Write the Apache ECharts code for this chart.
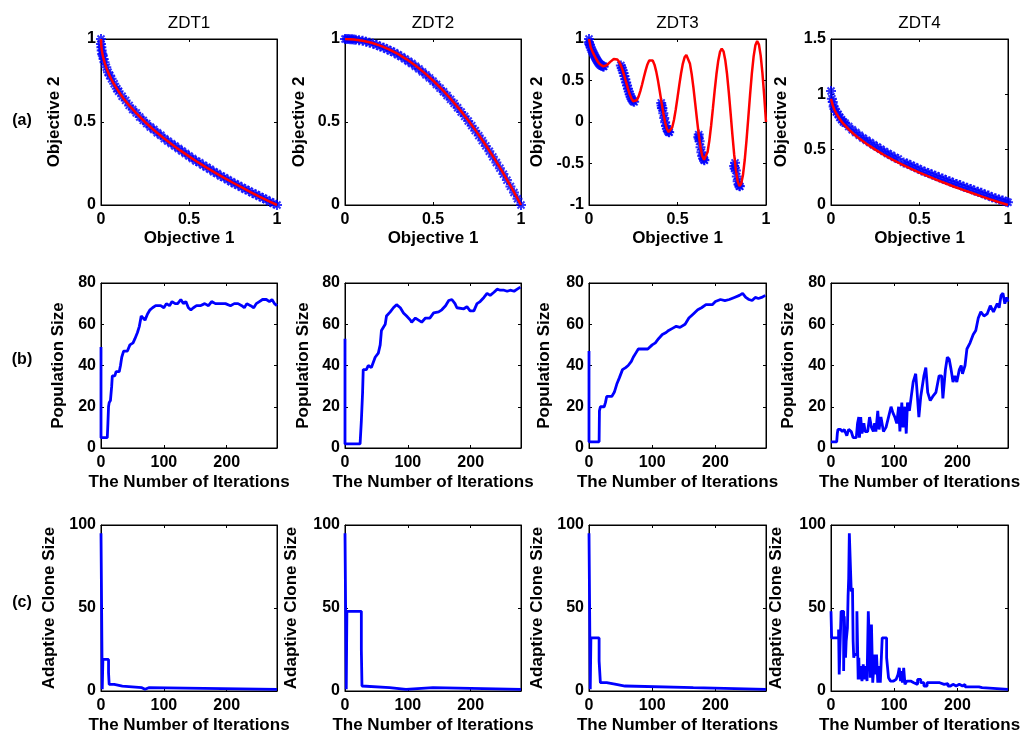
<!DOCTYPE html>
<html><head><meta charset="utf-8">
<script src="https://cdn.jsdelivr.net/npm/echarts@6/dist/echarts.min.js"></script>
<style>html,body{margin:0;padding:0;background:#fff}#c{width:1024px;height:735px}</style>
</head><body><div id="c"></div>
<script>
const problemTitles = ['ZDT1','ZDT2','ZDT3','ZDT4'];
const rowLabels = ['(a)','(b)','(c)'];
const objXName = 'Objective 1', objYName = 'Objective 2';
const iterName = 'The Number of Iterations';
const popName = 'Population Size';
const cloneName = 'Adaptive Clone Size';

// Row (a): true Pareto fronts (red) and obtained fronts (blue)
const zdt1Front = [[0,1],[0.002,0.955],[0.005,0.929],[0.01,0.9],[0.02,0.859],[0.03,0.827],[0.05,0.776],[0.07,0.735],[0.1,0.684],[0.13,0.639],[0.16,0.6],[0.2,0.553],[0.25,0.5],[0.3,0.452],[0.35,0.408],[0.4,0.368],[0.45,0.329],[0.5,0.293],[0.55,0.258],[0.6,0.225],[0.65,0.194],[0.7,0.163],[0.75,0.134],[0.8,0.106],[0.85,0.078],[0.9,0.051],[0.95,0.025],[1,0]];
const zdt1Found = [[0,1],[0,0.97],[0.002,0.95],[0.004,0.93],[0.007,0.91],[0.01,0.9],[0.015,0.88],[0.02,0.86],[0.03,0.83],[0.04,0.8],[0.05,0.78],[0.06,0.76],[0.075,0.73],[0.09,0.7],[0.1,0.685],[0.12,0.655],[0.14,0.63],[0.16,0.6],[0.18,0.575],[0.2,0.555],[0.22,0.53],[0.24,0.51],[0.26,0.49],[0.28,0.47],[0.3,0.455],[0.32,0.435],[0.34,0.42],[0.36,0.4],[0.38,0.385],[0.4,0.37],[0.42,0.355],[0.44,0.34],[0.46,0.325],[0.48,0.31],[0.5,0.295],[0.52,0.28],[0.54,0.265],[0.56,0.255],[0.58,0.24],[0.6,0.228],[0.62,0.215],[0.64,0.2],[0.66,0.19],[0.68,0.175],[0.7,0.165],[0.72,0.152],[0.74,0.14],[0.76,0.128],[0.78,0.118],[0.8,0.106],[0.82,0.095],[0.84,0.085],[0.86,0.073],[0.88,0.063],[0.9,0.052],[0.92,0.042],[0.94,0.032],[0.96,0.02],[0.98,0.01],[1,0]];
const zdt2Front = [[0,1],[0.05,0.9975],[0.1,0.99],[0.15,0.9775],[0.2,0.96],[0.25,0.9375],[0.3,0.91],[0.35,0.8775],[0.4,0.84],[0.45,0.7975],[0.5,0.75],[0.55,0.6975],[0.6,0.64],[0.65,0.5775],[0.7,0.51],[0.75,0.4375],[0.8,0.36],[0.85,0.2775],[0.9,0.19],[0.95,0.0975],[1,0]];
const zdt2Found = [[0,1],[0.01,1],[0.02,1],[0.03,0.999],[0.04,0.998],[0.05,0.997],[0.06,0.996],[0.08,0.993],[0.1,0.99],[0.12,0.984],[0.14,0.978],[0.16,0.972],[0.18,0.964],[0.2,0.955],[0.22,0.948],[0.24,0.938],[0.26,0.928],[0.28,0.918],[0.3,0.905],[0.32,0.894],[0.34,0.88],[0.36,0.866],[0.38,0.852],[0.4,0.836],[0.42,0.82],[0.44,0.802],[0.46,0.784],[0.48,0.766],[0.5,0.746],[0.52,0.726],[0.54,0.704],[0.56,0.682],[0.58,0.66],[0.6,0.636],[0.62,0.612],[0.64,0.586],[0.66,0.56],[0.68,0.534],[0.7,0.506],[0.72,0.478],[0.74,0.448],[0.76,0.418],[0.78,0.388],[0.8,0.356],[0.82,0.324],[0.84,0.29],[0.86,0.256],[0.88,0.222],[0.9,0.186],[0.92,0.15],[0.94,0.112],[0.96,0.075],[0.98,0.038],[1,0]];
const zdt3Front = [[0,1],[0.01,0.897],[0.02,0.847],[0.03,0.803],[0.04,0.762],[0.05,0.726],[0.06,0.698],[0.07,0.679],[0.08,0.67],[0.09,0.672],[0.1,0.684],[0.11,0.702],[0.12,0.724],[0.13,0.745],[0.14,0.759],[0.15,0.763],[0.16,0.752],[0.17,0.725],[0.18,0.682],[0.19,0.623],[0.2,0.553],[0.21,0.477],[0.22,0.402],[0.23,0.334],[0.24,0.282],[0.25,0.25],[0.26,0.243],[0.27,0.262],[0.28,0.306],[0.29,0.372],[0.3,0.452],[0.31,0.539],[0.32,0.622],[0.33,0.693],[0.34,0.74],[0.35,0.758],[0.36,0.742],[0.37,0.691],[0.38,0.607],[0.39,0.496],[0.4,0.368],[0.41,0.233],[0.42,0.105],[0.43,-0.004],[0.44,-0.082],[0.45,-0.121],[0.46,-0.116],[0.47,-0.066],[0.48,0.025],[0.49,0.149],[0.5,0.293],[0.51,0.444],[0.52,0.585],[0.53,0.701],[0.54,0.779],[0.55,0.808],[0.56,0.784],[0.57,0.706],[0.58,0.579],[0.59,0.414],[0.6,0.225],[0.61,0.031],[0.62,-0.152],[0.63,-0.303],[0.64,-0.409],[0.65,-0.456],[0.66,-0.44],[0.67,-0.361],[0.68,-0.224],[0.69,-0.044],[0.7,0.163],[0.71,0.377],[0.72,0.575],[0.73,0.736],[0.74,0.844],[0.75,0.884],[0.76,0.851],[0.77,0.745],[0.78,0.575],[0.79,0.355],[0.8,0.106],[0.81,-0.15],[0.82,-0.388],[0.83,-0.583],[0.84,-0.715],[0.85,-0.772],[0.86,-0.745],[0.87,-0.637],[0.88,-0.455],[0.89,-0.218],[0.9,0.051],[0.91,0.327],[0.92,0.582],[0.93,0.788],[0.94,0.925],[0.95,0.975],[0.96,0.933],[0.97,0.8],[0.98,0.586],[0.99,0.311],[1,0]];
const zdt3Found = [[0,1],[0,0.96],[0.002,0.94],[0.005,0.928],[0.01,0.897],[0.015,0.871],[0.02,0.847],[0.025,0.824],[0.03,0.803],[0.035,0.782],[0.04,0.762],[0.045,0.744],[0.05,0.726],[0.055,0.71],[0.06,0.698],[0.065,0.688],[0.07,0.679],[0.075,0.674],[0.08,0.67],[0.083,0.67],[0.18,0.682],[0.185,0.654],[0.19,0.623],[0.195,0.589],[0.2,0.553],[0.205,0.515],[0.21,0.477],[0.215,0.439],[0.22,0.402],[0.225,0.367],[0.23,0.334],[0.235,0.306],[0.24,0.282],[0.245,0.263],[0.25,0.25],[0.255,0.243],[0.408,0.23],[0.41,0.2],[0.412,0.17],[0.415,0.167],[0.42,0.105],[0.425,0.048],[0.43,-0.004],[0.435,-0.047],[0.44,-0.082],[0.445,-0.107],[0.45,-0.121],[0.453,-0.124],[0.618,-0.18],[0.62,-0.152],[0.62,-0.2],[0.625,-0.233],[0.63,-0.303],[0.635,-0.363],[0.64,-0.409],[0.645,-0.44],[0.65,-0.456],[0.652,-0.46],[0.82,-0.53],[0.823,-0.56],[0.825,-0.492],[0.83,-0.583],[0.835,-0.658],[0.84,-0.715],[0.845,-0.754],[0.85,-0.772],[0.852,-0.775]];
const zdt4Front = [[0,0.96],[0.002,0.955],[0.005,0.929],[0.01,0.9],[0.02,0.859],[0.03,0.827],[0.05,0.776],[0.07,0.735],[0.1,0.684],[0.13,0.639],[0.16,0.6],[0.2,0.553],[0.25,0.5],[0.3,0.452],[0.35,0.408],[0.4,0.368],[0.45,0.329],[0.5,0.293],[0.55,0.258],[0.6,0.225],[0.65,0.194],[0.7,0.163],[0.75,0.134],[0.8,0.106],[0.85,0.078],[0.9,0.051],[0.95,0.025],[1,0]];
const zdt4Found = [[0,1.03],[0.005,0.96],[0.01,0.93],[0.015,0.89],[0.02,0.87],[0.03,0.84],[0.04,0.82],[0.05,0.79],[0.06,0.77],[0.07,0.75],[0.08,0.74],[0.1,0.71],[0.12,0.68],[0.14,0.655],[0.16,0.63],[0.18,0.605],[0.2,0.585],[0.22,0.565],[0.24,0.545],[0.26,0.525],[0.28,0.505],[0.3,0.485],[0.32,0.465],[0.34,0.45],[0.36,0.43],[0.38,0.415],[0.41,0.385],[0.43,0.375],[0.45,0.36],[0.47,0.345],[0.49,0.33],[0.51,0.315],[0.53,0.3],[0.55,0.29],[0.57,0.275],[0.59,0.265],[0.61,0.25],[0.63,0.24],[0.65,0.225],[0.67,0.215],[0.69,0.2],[0.71,0.19],[0.73,0.18],[0.75,0.165],[0.77,0.155],[0.79,0.145],[0.81,0.13],[0.83,0.12],[0.85,0.11],[0.87,0.095],[0.89,0.085],[0.91,0.07],[0.93,0.06],[0.95,0.05],[0.97,0.04],[0.99,0.03],[1,0.025]];

// Row (b): population size per iteration
const popZDT1 = [[0,49],[0,5],[10,5],[11,12],[12,20],[13,22],[15,23],[17,30],[18,35],[22,35],[24,37],[29,37],[31,40],[33,44],[36,47],[42,47],[46,50],[51,51],[54,53],[58,56],[61,59],[64,64],[67,64],[70,62],[74,65],[78,67],[82,68],[87,69],[95,69],[100,68],[104,70],[109,69],[113,71],[118,70],[122,70],[127,72],[131,70],[135,71],[139,68],[143,67],[147,68],[152,69],[158,69],[165,70],[171,69],[176,71],[182,70],[190,70],[198,70],[206,69],[212,70],[218,70],[224,69],[228,68],[232,70],[238,69],[243,68],[247,70],[252,71],[257,72],[263,72],[268,71],[272,72],[276,70],[280,69]];
const popZDT2 = [[0,53],[0,2],[24,2],[26,13],[28,27],[29,38],[34,38],[37,40],[42,39],[48,44],[53,46],[56,50],[58,57],[64,60],[66,64],[72,66],[77,68],[82,69.5],[88,68],[93,65.5],[98,64],[104,62],[106,61],[112,63],[117,62],[122,61],[125,60.5],[128,63],[135,63],[141,65.5],[149,66],[154,67],[160,69],[165,71.5],[170,72],[175,70],[178,68],[189,67.5],[194,68.5],[199,66.5],[205,66.5],[210,70],[215,71],[221,73],[226,75],[231,74],[237,75.5],[242,77],[247,76.5],[253,76.5],[258,76],[263,76.5],[269,76],[274,77],[279,78]];
const popZDT3 = [[0,47],[0,3],[16,3],[16.5,18],[18,20],[24,20],[26,22],[28,25],[36,25],[40,27],[44,31],[48,34],[53,38],[58,39],[62,40],[67,42],[70,44],[74,46],[78,48],[93,48],[100,50],[105,51],[110,53],[116,55],[122,56],[126,57],[132,58],[138,59],[144,58.5],[152,60],[158,63],[165,65],[172,67],[178,68],[185,69.5],[195,69.5],[200,71],[208,72],[215,71.5],[222,72],[230,73],[238,74],[243,75],[248,73],[253,72],[258,71.5],[263,73],[268,72.5],[273,73],[279,74]];
const popZDT4 = [[0,3],[9,3],[10,7],[11,9],[15,9],[18,8],[21,9],[25,6],[28,9],[32,8],[35,5],[40,5],[42,12],[44,15],[45,5],[47,15],[49,7],[52,12],[54,8],[58,8],[61,15],[64,10],[67,8],[69,12],[71,8],[74,18],[76,9],[79,15],[83,8],[87,10],[91,15],[95,20],[98,17],[101,15],[104,12],[107,20],[109,8],[112,22],[114,10],[117,20],[119,7],[121,22],[124,18],[127,25],[130,32],[134,36],[136,28],[139,15],[142,25],[147,35],[150,39],[153,27],[157,23],[161,25],[166,27],[171,35],[175,35],[177,24],[181,38],[184,44],[187,43],[190,38],[193,32],[196,35],[199,32],[203,38],[206,40],[208,36],[212,40],[215,48],[220,51],[225,55],[229,57],[233,63],[237,66],[242,64],[247,65],[252,69],[257,66],[263,70],[266,68],[269,74],[272,75],[275,70],[278,73],[280,71]];

// Row (c): adaptive clone size per iteration (value held until the next change)
const cloneZDT1 = [[0,95],[2,1],[3,19],[12,11],[13,4],[21,3],[34,2],[65,1],[70,2],[76,1],[280,1]];
const cloneZDT2 = [[0,95],[2,1],[3,48],[26,25],[27,3],[29,2],[71,1],[97,2],[140,1],[280,1]];
const cloneZDT3 = [[0,95],[2,1],[3,32],[16,18],[18,5],[28,4],[43,3],[57,2],[165,1],[280,1]];
const cloneZDT4 = [[0,48],[1,32],[12,37],[13,10],[16,48],[20,12],[21,45],[23,20],[24,30],[26,38],[27,57],[28,68],[29,95],[32,60],[34,62],[35,30],[36,20],[37,22],[41,48],[43,7],[44,20],[45,7],[47,15],[49,6],[51,16],[53,7],[55,15],[57,6],[59,48],[61,25],[62,8],[64,40],[66,5],[69,22],[71,10],[72,22],[74,5],[76,15],[78,5],[81,32],[88,20],[91,8],[94,6],[99,7],[103,8],[106,10],[108,14],[110,6],[111,12],[113,5],[115,14],[117,4],[120,6],[126,5],[131,4],[137,7],[142,5],[147,3],[152,5],[172,4],[179,4.5],[185,3],[189,4],[193,3],[198,4],[203,3],[208,4],[212,2.5],[234,2],[239,1],[280,1]];

const fronts = [zdt1Front, zdt2Front, zdt3Front, zdt4Front];
const founds = [zdt1Found, zdt2Found, zdt3Found, zdt4Found];
const pops = [popZDT1, popZDT2, popZDT3, popZDT4];
const clones = [cloneZDT1, cloneZDT2, cloneZDT3, cloneZDT4];
const frontYRange = [[0,1,0.5],[0,1,0.5],[-1,1,0.5],[0,1.5,0.5]];

// layout
const colLeft = [101,345,589,831], colW = [176,176,177,177];
const rowTop = [39,283,525], rowH = [166,165,166];
const yNameGap = [[38,37,43,41],[34,33,36,34],[43,45,43,46]];
const FONT = '"Liberation Sans", Arial, sans-serif';
const INK = '#000';
const star = 'path://M8,0L12,0L12,20L8,20Z M0,8L20,8L20,12L0,12Z M1.6,4.4L4.4,1.6L18.4,15.6L15.6,18.4Z M15.6,1.6L18.4,4.4L4.4,18.4L1.6,15.6Z';

const grids=[], xAxes=[], yAxes=[], series=[], graphics=[];
function axisBase(gi, min, max, interval, mirror){
  return {type:'value', gridIndex:gi, min, max, interval, scale:true,
    axisLine:{show:true,onZero:false,lineStyle:{color:INK,width:1}},
    axisTick:{show:true,inside:true,length:3,lineStyle:{color:INK}},
    splitLine:{show:false}, silent:true,
    axisLabel:{show:!mirror,color:INK,fontFamily:FONT,fontSize:16,fontWeight:'bold'},
    nameTextStyle:{color:INK,fontFamily:FONT,fontSize:17,fontWeight:'bold'},
    nameLocation:'middle'};
}
for(let r=0;r<3;r++){
  for(let c=0;c<4;c++){
    const gi = grids.length;
    grids.push({left:colLeft[c], top:rowTop[r], width:colW[c], height:rowH[r], show:true, borderColor:INK, borderWidth:1, backgroundColor:'#fff', containLabel:false});
    let xr, yr, xn, yn;
    if(r===0){ xr=[0,1,0.5]; yr=frontYRange[c]; xn=objXName; yn=objYName; }
    else { xr=[0,280,100]; yr = r===1?[0,80,20]:[0,100,50]; xn=iterName; yn = r===1?popName:cloneName; }
    const xa = axisBase(gi,xr[0],xr[1],xr[2],false);
    xa.position='bottom'; xa.name=xn; xa.nameGap = r===0?25:26;
    xa.axisLabel.margin = 7;
    if(r>0) xa.axisLabel.formatter = v => (v%100===0? String(v):'');
    const xm = axisBase(gi,xr[0],xr[1],xr[2],true); xm.position='top';
    const ya = axisBase(gi,yr[0],yr[1],yr[2],false);
    ya.position='left'; ya.name=yn; ya.nameGap=yNameGap[r][c];
    ya.axisLabel.margin = 5;
    const ym = axisBase(gi,yr[0],yr[1],yr[2],true); ym.position='right';
    const xi = xAxes.length; xAxes.push(xa, xm);
    const yi = yAxes.length; yAxes.push(ya, ym);
    if(r===0){
      series.push({type:'scatter', xAxisIndex:xi, yAxisIndex:yi, data:founds[c], symbol:star, symbolSize:10, itemStyle:{color:'#0000ff'}, silent:true});
      series.push({type:'line', xAxisIndex:xi, yAxisIndex:yi, data:fronts[c], showSymbol:false, symbol:'none', lineStyle:{color:'#ff0000',width:2.5}, silent:true});
    } else if(r===1){
      series.push({type:'line', xAxisIndex:xi, yAxisIndex:yi, data:pops[c], showSymbol:false, symbol:'none', lineStyle:{color:'#0000ff',width:2.8}, silent:true});
    } else {
      series.push({type:'line', step:'end', xAxisIndex:xi, yAxisIndex:yi, data:clones[c], showSymbol:false, symbol:'none', lineStyle:{color:'#0000ff',width:2.8}, silent:true});
    }
  }
}
for(let c=0;c<4;c++){
  graphics.push({type:'text', x:colLeft[c]+colW[c]/2, y:23, style:{text:problemTitles[c], align:'center', verticalAlign:'middle', textAlign:'center', textVerticalAlign:'middle', fontSize:17, fontFamily:FONT, fill:INK}});
}
const rowLabelY = [121, 360, 603];
for(let r=0;r<3;r++){
  graphics.push({type:'text', x:22, y:rowLabelY[r], style:{text:rowLabels[r], align:'center', verticalAlign:'middle', textAlign:'center', textVerticalAlign:'middle', fontSize:16, fontWeight:'bold', fontFamily:FONT, fill:INK}});
}
const chart = echarts.init(document.getElementById('c'), null, {renderer:'canvas'});
chart.setOption({animation:false, backgroundColor:'#fff', grid:grids, xAxis:xAxes, yAxis:yAxes, series, graphic:graphics});
</script></body></html>
